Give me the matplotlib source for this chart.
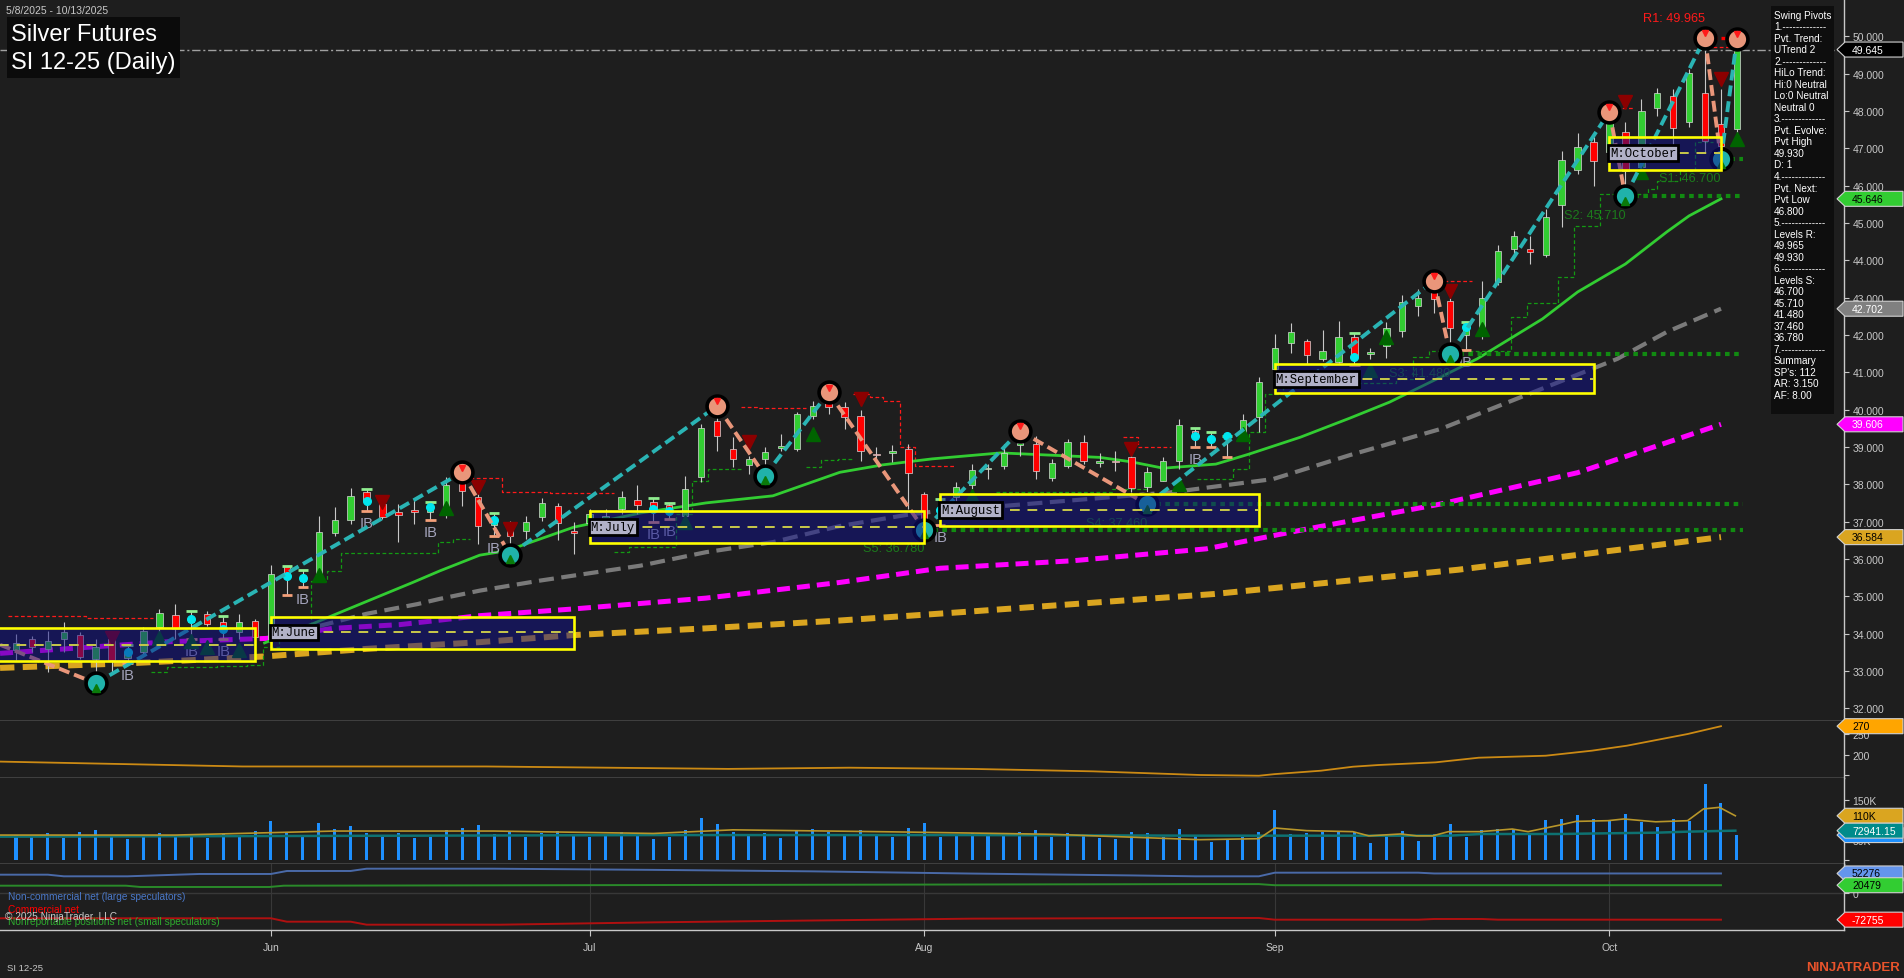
import matplotlib
matplotlib.use("Agg")
import matplotlib.pyplot as plt
from matplotlib.patches import Rectangle, Polygon
from matplotlib.transforms import IdentityTransform

W, H = 1904, 979
BG = "#1e1e1e"
AXC = "#c8c8c8"
plt.rcParams["font.family"] = ["Liberation Sans", "DejaVu Sans"]

# ---------------- data: daily bars, index 0 = 5/8/2025, 108 = 10/13/2025 ----------------
opens = [33.55, 33.86, 33.60, 33.86, 33.95, 33.32, 33.86, 33.35, 33.50, 34.17,
         34.50, 34.30, 34.52, 34.30, 34.03, 34.35, 33.86, 35.80, 35.40, 35.55,
         36.69, 37.05, 37.78, 37.47, 37.25, 37.31, 37.25, 37.35, 38.05, 37.65,
         36.90, 36.93, 36.75, 37.12, 37.43, 36.75, 36.95, 37.10, 37.33, 37.58,
         37.52, 37.45, 37.15, 38.20, 39.70, 38.95, 38.52, 38.68, 38.98, 38.95,
         39.82, 40.17, 40.07, 39.83, 38.82, 38.85, 38.94, 37.74, 37.10, 37.65,
         37.98, 38.40, 38.49, 39.05, 39.08, 38.17, 38.50, 39.12, 38.58, 38.62,
         38.73, 37.92, 38.10, 38.63, 39.43, 39.15, 39.25, 39.39, 39.79, 41.09,
         41.78, 41.85, 41.36, 41.28, 41.95, 41.50, 41.70, 42.10, 42.77, 43.18,
         42.92, 42.00, 41.98, 43.42, 44.30, 44.30, 44.15, 45.49, 46.43, 47.16,
         46.90, 47.43, 46.50, 48.07, 48.41, 47.70, 48.47, 47.65, 47.52]
highs = [33.99, 33.94, 34.08, 34.32, 34.03, 33.86, 33.94, 33.70, 34.17, 34.66,
         34.79, 34.60, 34.60, 34.48, 34.52, 34.39, 35.84, 35.82, 35.71, 37.14,
         37.38, 37.89, 37.86, 37.61, 37.47, 37.61, 37.53, 38.20, 38.32, 37.87,
         37.23, 37.02, 37.15, 37.63, 37.50, 36.98, 37.35, 37.33, 37.82, 37.98,
         37.63, 37.50, 38.23, 39.61, 40.10, 39.27, 38.76, 39.00, 39.35, 39.94,
         40.23, 40.46, 40.20, 40.00, 39.00, 39.05, 39.08, 37.80, 37.60, 38.05,
         38.54, 38.54, 39.08, 39.43, 39.30, 38.68, 39.20, 39.32, 38.85, 38.89,
         38.97, 38.46, 38.73, 39.75, 39.50, 39.40, 39.30, 39.88, 40.87, 42.03,
         42.32, 41.90, 42.13, 42.38, 42.05, 41.65, 42.35, 43.06, 43.24, 43.45,
         43.00, 42.35, 43.45, 44.40, 44.79, 44.65, 45.37, 46.94, 47.41, 47.31,
         47.98, 47.70, 48.32, 48.62, 48.60, 49.12, 49.965, 48.59, 49.93]
lows = [33.28, 33.50, 32.96, 33.50, 33.32, 32.67, 32.96, 33.20, 33.40, 34.03,
        33.86, 33.86, 34.21, 33.86, 33.86, 33.50, 33.80, 35.03, 35.24, 35.50,
        36.62, 36.94, 37.29, 37.07, 36.46, 36.94, 37.03, 37.10, 37.42, 36.40,
        36.62, 36.11, 36.53, 37.02, 36.50, 36.13, 36.85, 36.88, 37.20, 37.20,
        36.98, 37.07, 37.10, 38.06, 38.90, 38.47, 38.28, 38.23, 38.90, 38.90,
        39.75, 39.88, 39.48, 38.62, 38.63, 38.60, 37.33, 36.78, 36.90, 37.55,
        37.87, 38.14, 38.40, 38.75, 38.14, 38.09, 38.43, 38.55, 38.45, 38.36,
        37.80, 37.46, 38.09, 38.41, 39.00, 39.00, 38.73, 39.21, 39.40, 40.95,
        41.52, 41.22, 41.30, 41.25, 41.20, 41.36, 41.39, 41.94, 42.50, 42.60,
        41.48, 41.60, 41.90, 43.35, 44.17, 43.90, 44.08, 44.90, 46.30, 45.98,
        46.60, 45.71, 46.30, 47.87, 47.00, 47.57, 46.90, 46.70, 47.40]
closes = [33.75, 33.63, 33.80, 34.03, 33.36, 33.63, 33.28, 33.50, 34.08, 34.55,
          34.12, 34.40, 34.26, 34.12, 34.32, 33.90, 35.60, 35.55, 35.50, 36.71,
          37.04, 37.68, 37.56, 37.13, 37.18, 37.25, 37.40, 37.97, 37.83, 36.88,
          37.05, 36.62, 36.98, 37.50, 36.95, 36.70, 37.20, 37.15, 37.65, 37.45,
          37.33, 37.28, 37.87, 39.50, 39.30, 38.68, 38.68, 38.86, 39.02, 39.88,
          40.10, 40.07, 39.80, 38.90, 38.78, 38.90, 38.30, 37.05, 37.30, 37.92,
          38.39, 38.43, 38.84, 39.10, 38.36, 38.57, 39.14, 38.61, 38.60, 38.60,
          37.90, 38.33, 38.63, 39.60, 39.28, 39.20, 39.30, 39.73, 40.75, 41.65,
          42.09, 41.46, 41.58, 41.94, 41.40, 41.55, 42.19, 42.87, 43.00, 42.96,
          42.18, 42.20, 43.00, 44.25, 44.65, 44.22, 45.16, 46.69, 47.03, 46.67,
          47.70, 46.40, 48.00, 48.47, 47.54, 49.02, 47.20, 47.07, 49.645]
volume_k = [62, 58, 66, 55, 70, 74, 60, 52, 63, 68,
            57, 61, 55, 64, 59, 72, 98, 70, 58, 92,
            76, 84, 66, 60, 68, 55, 58, 74, 80, 86,
            64, 70, 58, 66, 72, 60, 56, 62, 70, 64,
            52, 58, 75, 105, 90, 70, 62, 66, 55, 72,
            78, 70, 60, 74, 64, 58, 80, 92, 58, 62,
            66, 60, 64, 70, 74, 58, 66, 62, 55, 52,
            70, 66, 58, 76, 62, 45.5, 52, 58, 70, 124,
            65, 67.7, 70, 70, 68.6, 42, 60, 73, 48, 65,
            90, 58, 74.6, 77, 77, 62, 99.5, 102, 112, 102,
            96, 114, 95, 83, 102, 98, 189, 142, 62]

month_ticks = [16, 36, 57, 79, 100]
month_names = ["Jun", "Jul", "Aug", "Sep", "Oct"]

# moving averages (bar index, value)
ma_green_k = [15.6, 18.6, 22.0, 24.9, 26.6, 29.1, 30.8, 35.0, 39.2, 43.3, 47.5, 51.7, 54.4,
              57.5, 61.8, 64.9, 68.0, 70.0, 72.0, 75.3, 77.4, 80.6, 83.7, 86.2, 89.4, 91.7,
              95.8, 98.0, 101.0, 103.6, 105.0, 107.0]
ma_green_v = [33.75, 34.26, 34.86, 35.37, 35.68, 36.10, 36.22, 36.85, 37.23, 37.50, 37.69, 38.32, 38.52,
              38.68, 38.84, 38.78, 38.72, 38.60, 38.43, 38.54, 38.81, 39.26, 39.77, 40.20, 40.87, 41.36,
              42.43, 43.15, 43.90, 44.76, 45.19, 45.646]
ma_gray_k = [19.0, 22.0, 25.2, 26.6, 29.1, 32.9, 39.2, 43.3, 47.5, 51.7, 55.9, 58.0, 62.0,
             71.2, 72.4, 78.9, 83.7, 89.4, 100.5, 103.6, 107.0]
ma_gray_v = [34.20, 34.53, 34.79, 34.93, 35.15, 35.42, 35.82, 36.18, 36.45, 36.88, 37.18, 37.29, 37.42,
             37.74, 37.78, 38.14, 38.78, 39.48, 41.36, 42.08, 42.702]
ma_magenta_k = [-1.0, 9.5, 15.7, 19.9, 24.1, 29.1, 35.0, 43.3, 51.7, 58.0, 66.3, 74.7, 81.0, 89.4, 98.0, 107.0]
ma_magenta_v = [33.47, 33.78, 33.87, 34.14, 34.24, 34.48, 34.66, 34.95, 35.37, 35.75, 35.95, 36.27, 36.80,
                37.47, 38.31, 39.606]
ma_orange_k = [-1.0, 7.4, 15.7, 22.0, 29.1, 35.0, 43.3, 51.7, 59.2, 75.2, 90.5, 107.0]
ma_orange_v = [33.08, 33.21, 33.39, 33.59, 33.77, 33.96, 34.14, 34.35, 34.57, 35.06, 35.71, 36.584]

# swing pivots (first entry = off-chart pivot where the line enters)
swing_k = [-1.0, 5, 28, 31, 44, 47, 51, 57, 63, 71, 89, 90, 100, 101, 106, 107, 108]
swing_p = [33.70, 32.67, 38.32, 36.11, 40.10, 38.23, 40.46, 36.78, 39.43, 37.46, 43.45, 41.48,
           47.98, 45.71, 49.965, 46.70, 49.93]
swing_hl = "HLHLHLHLHLHLHLHLH"

# support levels S1..S5 and resistance R1 (start bar, level)
support_k = [107, 101, 90, 71, 57]
support_v = [46.700, 45.710, 41.480, 37.460, 36.780]
support_names = ["S1", "S2", "S3", "S4", "S5"]
r1_k, r1_v = 106, 49.965
last_price = 49.645

# monthly boxes: (first bar, last bar, low, high, mid, label)
box_k0 = [-1.5, 16, 36, 58, 79, 100]
box_k1 = [15.0, 35.0, 57.0, 78.0, 99.0, 107.0]
box_lo = [33.27, 33.59, 36.43, 36.89, 40.44, 46.42]
box_hi = [34.14, 34.45, 37.29, 37.74, 41.22, 47.29]
box_mid = [33.70, 34.03, 36.86, 37.31, 40.82, 46.87]
box_label = [None, "M:June", "M:July", "M:August", "M:September", "M:October"]

# trailing swing lines: segments (k start, k end, level)
red_steps = [
    [(-0.5, 0.4, 34.48), (0.4, 4.4, 34.47), (4.4, 8.6, 34.41)],
    [(28.5, 30.5, 38.16), (30.5, 31.4, 37.80), (31.4, 33.5, 37.78), (33.5, 37.5, 37.76)],
    [(45.5, 46.5, 40.08), (46.5, 49.6, 40.03)],
    [(52.5, 53.6, 40.42), (53.6, 54.4, 40.35), (54.4, 55.5, 40.24), (55.5, 56.4, 38.99), (56.4, 59.0, 38.48)],
    [(69.5, 70.4, 39.26), (70.4, 72.5, 38.99)],
    [(89.6, 91.4, 43.44)],
    [(100.4, 101.5, 48.08)],
    [(106.5, 107.8, 49.70)],
]
green_steps = [
    [(8.5, 9.5, 32.96), (9.5, 12.6, 33.10), (12.6, 14.5, 33.12), (14.5, 15.5, 33.16), (15.5, 16.5, 33.64),
     (16.5, 18.5, 34.18), (18.5, 19.5, 35.42), (19.5, 20.4, 35.67), (20.4, 26.5, 36.15), (26.5, 27.4, 36.45),
     (27.4, 28.5, 36.53)],
    [(37.5, 38.5, 36.18), (38.5, 41.4, 36.31), (41.4, 42.4, 37.20), (42.4, 43.4, 38.10), (43.4, 45.5, 38.41)],
    [(49.6, 50.5, 38.45), (50.5, 51.6, 38.65), (51.6, 52.6, 38.68)],
    [(61.5, 68.8, 37.80), (68.8, 71.0, 37.87)],
    [(74.1, 76.4, 38.14), (76.4, 77.4, 38.41), (77.4, 78.4, 39.39), (78.4, 79.5, 40.42), (79.5, 86.6, 40.70),
     (86.6, 87.7, 40.82), (87.7, 88.7, 41.40), (88.7, 93.8, 41.56), (93.8, 94.8, 42.47), (94.8, 96.8, 42.86),
     (96.8, 97.8, 43.54), (97.8, 99.4, 44.93), (99.4, 102.4, 45.78), (102.4, 103.0, 45.90), (103.0, 104.4, 46.13),
     (104.4, 105.4, 46.40), (105.4, 106.5, 47.16)],
]

down_tri_k = [6, 23, 29, 31, 46, 53, 70, 90, 101, 107]
down_tri_p = [33.88, 37.52, 37.93, 36.80, 39.14, 40.28, 38.94, 43.18, 48.23, 48.86]
up_tri_k = [9, 11, 12, 14, 19, 27, 42, 50, 60, 73, 77, 85, 86, 92, 102, 108]
up_tri_p = [33.88, 33.81, 33.63, 33.57, 35.57, 37.36, 36.99, 39.35, 37.69, 38.01, 39.35, 41.07, 41.94,
            42.16, 46.36, 47.25]

ib_bars = [7, 11, 13, 17, 18, 22, 26, 30, 40, 41, 58, 74, 75, 76, 84, 91]
ib_text_bars = [7, 11, 13, 18, 22, 26, 30, 40, 41, 58, 74, 84, 91]

# lower panels
osc_k = [-1.0, 6.6, 14.2, 21.9, 29.5, 37.1, 44.7, 52.3, 60.0, 67.6, 74.3, 78.0, 79.0, 81.9, 83.9,
         85.5, 89.1, 91.8, 96.0, 98.9, 101.1, 104.9, 107.0]
osc_v = [182.8, 176.8, 170.8, 170.8, 170.8, 167.8, 164.8, 167.8, 164.8, 158.8, 149.8, 148.0, 152.0,
         160.4, 170.2, 174.4, 181.0, 192.4, 197.3, 209.7, 222.0, 250.7, 270.0]
vol_avg_k = [-1.0, 10, 20, 30, 40, 45, 55, 65, 74.3, 78.0, 79.0, 81.0, 83.9, 84.9, 86.9, 87.9, 88.9,
             89.9, 91.9, 93.9, 94.9, 96.9, 97.9, 99.9, 100.9, 102.9, 104.9, 105.9, 106.9, 107.9]
vol_avg_v = [62, 62, 72, 72, 66, 75, 70, 64, 50.5, 53, 79.6, 73, 70.5, 60, 64.7, 60, 60,
             70.5, 70.5, 77, 70.5, 87, 96, 97.8, 102, 95, 97.8, 127, 131, 110]
vol_slow_k = [-1.0, 20, 40, 60, 74.3, 89.9, 92.0, 96.9, 99.9, 103.0, 104.9, 107.9]
vol_slow_v = [58, 60, 62, 62, 60.5, 60.5, 64.7, 64.7, 66.4, 68.0, 70.5, 72.94]

cot_large_k = [-1, 2, 3, 7, 11.5, 16, 17, 21, 22, 30, 40, 50, 60, 70, 74, 78, 79, 88, 89, 107]
cot_large_v = [49000, 49000, 44600, 44600, 50900, 50900, 59000, 59000, 65200, 65200, 62000, 58000,
               52000, 47000, 44600, 44600, 54400, 54400, 52276, 52276]
cot_small_k = [-1, 6.9, 7.8, 15.9, 16.8, 74, 78, 79, 107]
cot_small_v = [19200, 19200, 15700, 15700, 19200, 23500, 23500, 20479, 20479]
cot_comm_k = [-1, 16, 17, 21, 22, 30.4, 40, 50, 60, 74, 78, 79, 88, 89, 92, 93, 107]
cot_comm_v = [-69000, -69000, -78200, -78200, -86300, -86300, -80000, -75000, -70000, -68200, -68200,
              -72800, -72800, -70900, -70900, -72755, -72755]

info_lines = ["Swing Pivots", "1.-------------", "Pvt. Trend:", "UTrend 2", "2.-------------",
              "HiLo Trend:", "Hi:0 Neutral", "Lo:0 Neutral", "Neutral 0", "3.-------------",
              "Pvt. Evolve:", "Pvt High", "49.930", "D: 1", "4.-------------", "Pvt. Next:",
              "Pvt Low", "46.800", "5.-------------", "Levels R:", "49.965", "49.930",
              "6.-------------", "Levels S:", "46.700", "45.710", "41.480", "37.460", "36.780",
              "7.-------------", "Summary", "SP's: 112", "AR: 3.150", "AF: 8.00"]

# ---------------- figure ----------------
fig = plt.figure(figsize=(W / 100, H / 100), dpi=100, facecolor=BG)


def panel(top, bottom):
    return fig.add_axes([0, 1 - bottom / H, 1844 / W, (bottom - top) / H], facecolor=BG)


ax1 = panel(0, 722)
ax2 = panel(722, 779)
ax3 = panel(779, 865)
ax4 = panel(865, 931)

for ax in (ax1, ax2, ax3, ax4):
    ax.set_xlim(-1.004, 114.72)
    ax.spines["left"].set_visible(False)
    ax.spines["top"].set_visible(False)
    for s in ("right", "bottom"):
        ax.spines[s].set_color(AXC)
        ax.spines[s].set_linewidth(1.0)
    ax.yaxis.tick_right()
    ax.tick_params(axis="y", colors=AXC, labelsize=7.5, length=3.6, pad=2.5, width=0.8)
    ax.tick_params(axis="x", bottom=False, labelbottom=False)

ax1.set_ylim(31.658, 50.999)
ax1.set_yticks(range(32, 51))
ax1.set_yticklabels([f"{v:.3f}" for v in range(32, 51)])
ax2.set_ylim(142.4, 282.8)
ax2.set_yticks([150, 200, 250])
ax2.set_yticklabels(["", "200", "250"])
ax3.set_ylim(-10, 204)
ax3.set_yticks([0, 50, 100, 150])
ax3.set_yticklabels(["", "50K", "100K", "150K"])
ax4.set_ylim(-100700, 77900)
ax4.set_yticks([0, 50000])
ax4.set_yticklabels(["0", "50000"])
ax4.set_xticks(month_ticks)
ax4.set_xticklabels(month_names)
ax4.tick_params(axis="x", bottom=True, labelbottom=True, colors=AXC, length=4, pad=5, labelsize=7.5)
ax4.grid(axis="x", color="#383838", lw=0.8)
ax4.axhline(0, color="#383838", lw=1.0)

n = len(closes)
bars = range(n)

# ---- moving averages ----
ax1.plot(ma_orange_k, ma_orange_v, color="#daa520", lw=4.3, ls=(0, (2.4, 1.4)), zorder=2)
ax1.plot(ma_magenta_k, ma_magenta_v, color="#ff00ff", lw=3.6, ls=(0, (2.6, 1.4)), zorder=2)
ax1.plot(ma_gray_k, ma_gray_v, color="#7a7a7a", lw=3.0, ls=(0, (3.6, 1.8)), zorder=2)
ax1.plot(ma_green_k, ma_green_v, color="#32cd32", lw=2.0, zorder=2.2)


# ---- trailing step lines ----
def draw_steps(groups, color):
    for g in groups:
        xs, ys = [], []
        for x0, x1, v in g:
            xs += [x0, x1]
            ys += [v, v]
        ax1.plot(xs, ys, color=color, lw=0.9, ls=(0, (3, 2)), zorder=2.1)


draw_steps(red_steps, "#ff1a1a")
draw_steps(green_steps, "#139a13")

# ---- candles ----
for k in bars:
    o, hi, lo, c = opens[k], highs[k], lows[k], closes[k]
    col = "#32cd32" if c >= o else "#ff0000"
    ax1.vlines(k, lo, hi, color="#c8c8c8", lw=0.8, zorder=3)
    ax1.bar(k, max(abs(c - o), 0.03), bottom=min(o, c), width=0.4, color=col,
            edgecolor="#d8d8d8", linewidth=0.5, zorder=3.1)

# ---- inside bars ----
for k in ib_bars:
    ax1.hlines(highs[k], k - 0.33, k + 0.33, color="#90ee90", lw=2, zorder=3.3)
    ax1.hlines(lows[k], k - 0.33, k + 0.33, color="#f4a07a", lw=2, zorder=3.3)
    ax1.plot(k, closes[k], "o", ms=5.5, color="#00e5ee", zorder=3.4)
for k in ib_text_bars:
    ax1.text(k, lows[k] - 0.32, "IB", color="#a4a4bc", fontsize=10.5, ha="center", va="center", zorder=3.4)

# ---- triangles ----
ax1.plot(down_tri_k, down_tri_p, "v", ms=10, color="#8b0000", ls="none", zorder=3.5)
ax1.plot(up_tri_k, up_tri_p, "^", ms=10, color="#006400", ls="none", zorder=3.5)

# ---- support / resistance levels ----
for k0, v, name in zip(support_k, support_v, support_names):
    ax1.hlines(v, k0, 108.4, color="#118a11", lw=3.0, linestyles=(0, (1.1, 1.1)), zorder=4)
    ax1.text(k0, v - 0.5, f"{name}: {v:.3f}", color="#1c7a1c", fontsize=9.2, ha="right", va="center", zorder=4)
ax1.hlines(r1_v, r1_k, 108.5, color="#ff0000", lw=2.4, linestyles=(0, (1.2, 1.2)), zorder=4)
ax1.text(r1_k, r1_v + 0.53, f"R1: {r1_v:.3f}", color="#ff1a1a", fontsize=9.2, ha="right", va="center", zorder=9)
ax1.axhline(last_price, color="#a0a0a0", lw=1.0, ls=(0, (6, 2, 1.5, 2)), zorder=1.5)

# ---- zigzag ----
for i in range(len(swing_k) - 1):
    up = swing_hl[i] == "L"
    ax1.plot(swing_k[i:i + 2], swing_p[i:i + 2], color="#2ab4b4" if up else "#e9967a",
             lw=2.8, ls=(0, (2.8, 1.3)), zorder=5)
for k, p, t in zip(swing_k, swing_p, swing_hl):
    if k < 0:
        continue
    ax1.plot(k, p, "o", ms=15, mfc="#e9967a" if t == "H" else "#20b2aa", mec="black", mew=2.6, zorder=6)
    if t == "H":
        ax1.plot(k, p + 0.12, "v", ms=5, color="#ff1a1a", zorder=6.1)
    else:
        ax1.plot(k, p - 0.12, "^", ms=6, color="#0a7a0a", zorder=6.1)

# ---- monthly boxes ----
for k0, k1, lo, hi, mid, lab in zip(box_k0, box_k1, box_lo, box_hi, box_mid, box_label):
    ax1.add_patch(Rectangle((k0, lo), k1 - k0, hi - lo, fc="#10108c", alpha=0.5, ec="none", zorder=10))
    ax1.add_patch(Rectangle((k0, lo), k1 - k0, hi - lo, fill=False, ec="#ffff00", lw=1.9, zorder=11))
    ax1.hlines(mid, k0, k1, color="#c8c84a", lw=1.4, linestyles=(0, (5, 4)), zorder=11)
    if lab:
        ax1.text(k0 + 0.05, mid, lab, family="Liberation Mono", fontsize=8.8, color="black", ha="left",
                 va="center", zorder=12,
                 bbox=dict(boxstyle="square,pad=0.15", fc="#b2b2c8", ec="black", lw=2))

# ---- lower panels ----
ax2.plot(osc_k, osc_v, color="#cc8a14", lw=1.3)
ax3.bar(list(bars), volume_k, width=0.19, color="#1e90ff", zorder=2)
ax3.plot(vol_slow_k, vol_slow_v, color="#0e7272", lw=1.8, zorder=3)
ax3.plot(vol_avg_k, vol_avg_v, color="#b8962a", lw=1.2, zorder=3)
ax4.plot(cot_large_k, cot_large_v, color="#4a6aa8", lw=1.4)
ax4.plot(cot_small_k, cot_small_v, color="#2a8a2a", lw=1.4)
ax4.plot(cot_comm_k, cot_comm_v, color="#b01010", lw=1.4)


# ---------------- overlays in pixel space ----------------
def fy(y):
    return 1 - y / H


def tag(ax, value, text, fc, tc):
    y = ax.transData.transform((0, value))[1]
    pts = [(1837, y), (1845, y + 7.5), (1903, y + 7.5), (1903, y - 7.5), (1845, y - 7.5)]
    fig.add_artist(Polygon(pts, closed=True, transform=IdentityTransform(), fc=fc, ec="#d0d0d0", lw=0.8))
    fig.text(1852 / W, y / H, text, color=tc, fontsize=7.5, va="center", ha="left")


tag(ax1, 49.645, "49.645", "#000000", "white")
tag(ax1, 45.646, "45.646", "#32cd32", "black")
tag(ax1, 42.702, "42.702", "#808080", "white")
tag(ax1, 39.606, "39.606", "#ff00ff", "white")
tag(ax1, 36.584, "36.584", "#daa520", "black")
tag(ax2, 270, "270", "#ffa500", "black")
tag(ax3, volume_k[-1], "", "#1e90ff", "white")
tag(ax3, 110, "110K", "#daa520", "black")
tag(ax3, 72.94, "72941.15", "#008b8b", "white")
tag(ax4, 52276, "52276", "#6495ed", "black")
tag(ax4, 20479, "20479", "#32cd32", "black")
tag(ax4, -72755, "-72755", "#ff0000", "white")

# info box
fig.add_artist(Rectangle((1771 / W, fy(415)), 63 / W, 408 / H, transform=fig.transFigure, fc="#0e0e0e", ec="none"))
for i, line in enumerate(info_lines):
    fig.text(1774 / W, fy(15.7 + i * 11.52), line, color="white", fontsize=7.2, va="center", ha="left")

# title
fig.add_artist(Rectangle((7 / W, fy(79)), 173 / W, 61 / H, transform=fig.transFigure, fc="#0b0b0b", ec="none"))
fig.text(11 / W, fy(35), "Silver Futures", color="white", fontsize=17, va="center", ha="left")
fig.text(11 / W, fy(63), "SI 12-25 (Daily)", color="white", fontsize=17, va="center", ha="left")
fig.text(5.5 / W, fy(11.5), "5/8/2025 - 10/13/2025", color=AXC, fontsize=7.5, va="center", ha="left")

# legend of COT panel
fig.text(8 / W, fy(897), "Non-commercial net (large speculators)", color="#4a78c8", fontsize=7.3, va="center")
fig.text(8 / W, fy(910), "Commercial net", color="#ff0000", fontsize=7.3, va="center")
fig.text(8 / W, fy(922), "Nonreportable positions net (small speculators)", color="#2eaa2e", fontsize=7.3, va="center")
fig.text(5 / W, fy(917), "\u00a9 2025 NinjaTrader, LLC", color="#c8c8c8", fontsize=7.3, va="center")

fig.text(7 / W, fy(969), "SI 12-25", color=AXC, fontsize=6.8, va="center")
fig.text(1900 / W, fy(968), "NINJATRADER", color="#e8532b", fontsize=9.5, fontweight="bold", va="center", ha="right")

fig.savefig("out.png", dpi=100, facecolor=BG)
